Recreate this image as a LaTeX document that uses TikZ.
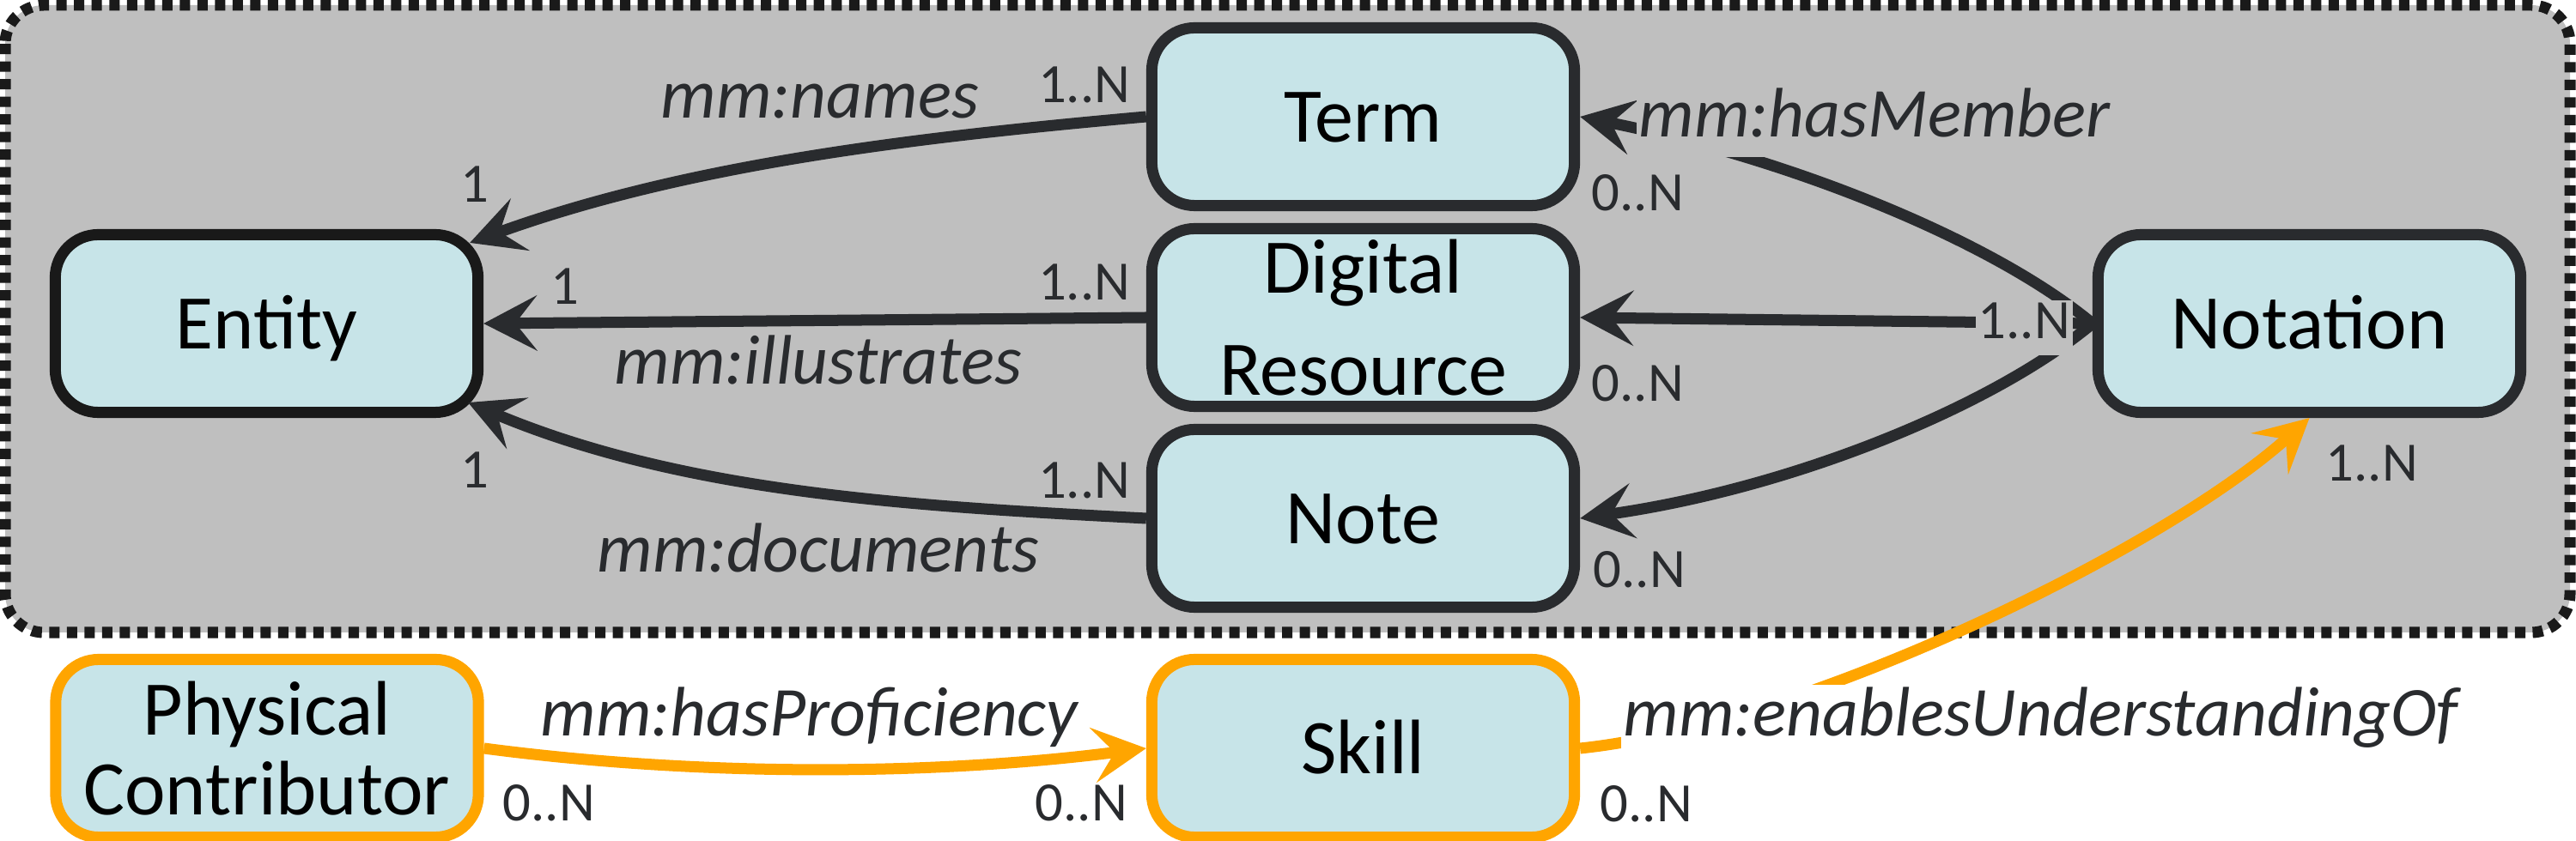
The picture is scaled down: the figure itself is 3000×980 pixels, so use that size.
\documentclass[tikz,border=0pt]{standalone}
\usepackage{fontspec}
\setmainfont{Carlito}
\usetikzlibrary{arrows.meta}
\definecolor{nodefill}{RGB}{199,228,232}
\definecolor{boxgrey}{RGB}{191,191,191}
\definecolor{edgec}{RGB}{41,43,46}
\definecolor{dashc}{RGB}{26,26,26}
\definecolor{orng}{RGB}{255,165,0}
\begin{document}
\begin{tikzpicture}[x=0.01cm,y=-0.01cm,
  entbox/.style={draw=edgec, fill=nodefill, line width=0.13cm, rounded corners=0.5cm,
    minimum width=4.92cm, minimum height=2.07cm, inner sep=0pt, align=center,
    font=\fontsize{25.6}{30}\selectfont, text=black},
  oneline/.style={text height=0.58cm, text depth=0pt},
  entboxo/.style={entbox, draw=orng},
  rel/.style={draw=edgec, line width=0.13cm, -{Stealth[length=0.62cm,width=0.64cm,inset=0.25cm]}},
  relo/.style={rel, draw=orng},
  lbl/.style={font=\fontsize{23.2}{27}\selectfont\itshape, text=edgec, inner sep=0pt},
  card/.style={font=\fontsize{18.4}{22}\selectfont, text=edgec, inner sep=0pt},
]
\useasboundingbox (0,0) rectangle (3000,980);
% grey container
\draw[fill=boxgrey, draw=dashc, line width=0.13cm, dash pattern=on 0.12cm off 0.085cm,
  rounded corners=0.45cm] (6,6) rectangle (2993,737);

% nodes
\node[entbox, oneline, draw=black!90] (entity) at (310.5,377) {Entity};
\node[entbox, oneline] (term) at (1587.5,136) {Term};
\node[entbox, font=\fontsize{25.6}{33.9}\selectfont] (dr) at (1587.5,370) {Digital\\Resource};
\node[entbox, oneline] (note) at (1587.5,604) {Note};
\node[entbox, oneline] (notation) at (2689.5,377) {Notation};
\node[entboxo, font=\fontsize{25.6}{26.5}\selectfont] (pc) at (311,872) {Physical\\Contributor};
\node[entboxo, oneline] (skill) at (1587.5,872) {Skill};

% connectors
\draw[rel] (term.west) .. controls (1066,160) and (801,191) .. ([shift={(-16,16)}]entity.north east);
\draw[rel] (dr.west) -- (entity.east);
\draw[rel] (note.west) .. controls (1065,590) and (797,575) .. ([shift={(-18,-18)}]entity.south east);
\draw[rel] (notation.west) .. controls (2322,281) and (2085,185) .. (term.east);
\draw[rel] (notation.west) -- (dr.east);
\draw[rel] (notation.west) .. controls (2322,473) and (2088,569) .. (note.east);
\draw[relo] (pc.east) .. controls (814,905) and (1085,904) .. (skill.west);
\draw[relo] (skill.east) .. controls (2100,845) and (2520,640) .. (notation.south);

% edge labels
\node[lbl, anchor=base west] (lnames) at (769,138) {mm:names};
\node[lbl, anchor=base west] (lillu) at (715,448) {mm:illustrates};
\node[lbl, anchor=base west] (ldoc) at (695,667) {mm:documents};
\node[lbl, anchor=base west, fill=boxgrey, inner sep=0.03cm, text depth=0.2cm] (lmem) at (1905,160) {mm:hasMember};
\node[lbl, anchor=base west] (lprof) at (629,858) {mm:hasProficiency};
\node[lbl, anchor=base west, fill=white, inner sep=0.03cm, text depth=0.2cm] (lenab) at (1887,858) {mm:enablesUnderstandingOf};

% cardinalities
\node[card, anchor=base east] (c1) at (1317,120) {1..N};
\node[card, anchor=base east] (c2) at (1317,350) {1..N};
\node[card, anchor=base east] (c3) at (1317,581) {1..N};
\node[card] (c4) at (553,215) {1};
\node[card] (c5) at (658,334) {1};
\node[card] (c6) at (553,548) {1};
\node[card, anchor=base west] (c7) at (1853,246) {0..N};
\node[card, anchor=base west] (c8) at (1853,468) {0..N};
\node[card, anchor=base west] (c9) at (1855,685) {0..N};
\node[card, anchor=base west, fill=boxgrey, inner sep=0.03cm, text depth=0.16cm] (c10) at (2300,395) {1..N};
\node[card, anchor=base west] (c11) at (2708,561) {1..N};
\node[card, anchor=base west] (c12) at (585,957) {0..N};
\node[card, anchor=base west] (c13) at (1205,957) {0..N};
\node[card, anchor=base west] (c14) at (1863,958) {0..N};
\end{tikzpicture}
\end{document}
